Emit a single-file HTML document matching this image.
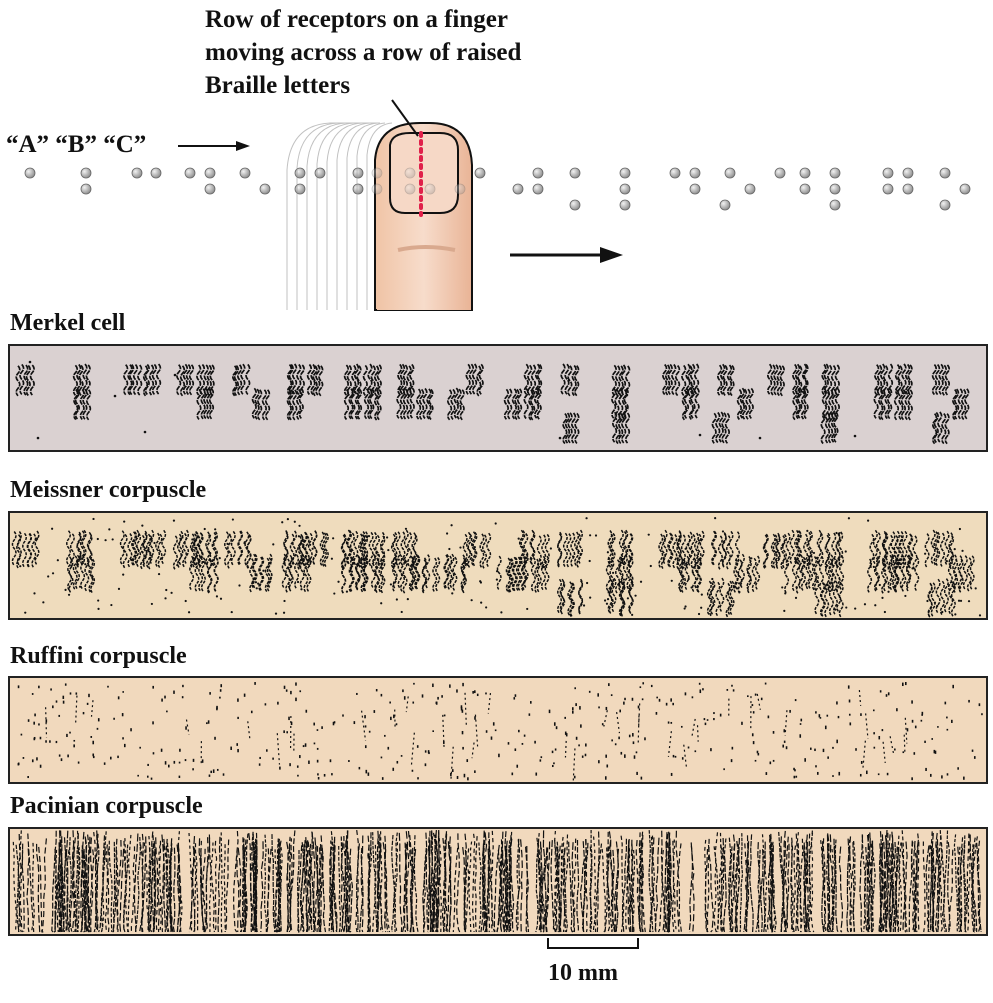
<!DOCTYPE html>
<html><head><meta charset="utf-8">
<style>
html,body{margin:0;padding:0;background:#fff;}
svg{display:block;}
text{font-family:"Liberation Serif",serif;font-weight:bold;fill:#111;}
</style></head>
<body>
<svg id="s" width="993" height="1003" viewBox="0 0 993 1003" xmlns="http://www.w3.org/2000/svg">
<defs>
<linearGradient id="fg" x1="0" x2="1" y1="0" y2="0">
<stop offset="0" stop-color="#f0c4a6"/><stop offset="0.5" stop-color="#f7dccb"/><stop offset="1" stop-color="#e9b496"/>
</linearGradient>
<radialGradient id="dg" cx="0.35" cy="0.35" r="0.7">
<stop offset="0" stop-color="#f2f2f2"/><stop offset="1" stop-color="#8a8a8a"/>
</radialGradient>
</defs>
<text x="205" y="27" font-size="25">Row of receptors on a finger</text>
<text x="205" y="60" font-size="25">moving across a row of raised</text>
<text x="205" y="93" font-size="25">Braille letters</text>
<text x="6" y="152" font-size="25">“A” “B”  “C”</text>
<line x1="178" y1="146" x2="240" y2="146" stroke="#111" stroke-width="2"/>
<polygon points="250,146 236,141 236,151" fill="#111"/>
<g id="braille"></g>
<g id="finger">
<g fill="none" stroke="#999" stroke-width="1" opacity="0.6">
<path d="M287 310 L287 170 Q290 125 330 123 L380 123"/>
<path d="M297 310 L297 168 Q300 125 338 123"/>
<path d="M307 310 L307 166 Q310 125 346 123"/>
<path d="M317 310 L317 164 Q320 125 354 123"/>
<path d="M327 310 L327 162 Q330 125 362 123"/>
<path d="M337 310 L337 160 Q340 125 370 123"/>
<path d="M347 310 L347 158 Q350 125 378 123"/>
<path d="M357 310 L357 156 Q360 125 385 123"/>
<path d="M367 310 L367 155 Q370 125 392 123"/>
</g>
<path d="M375 310 L375 160 Q378 123 420 123 L430 123 Q470 123 472 165 L472 310 Z" fill="url(#fg)" stroke="#111" stroke-width="2"/>
<rect x="377" y="280" width="94" height="30" fill="url(#fg)"/>
<path d="M390 145 Q392 133 410 133 L440 133 Q458 133 458 150 L458 195 Q458 213 440 213 L405 213 Q390 213 390 198 Z" fill="#f6d8c6" stroke="#111" stroke-width="2"/>
<path d="M398 250 Q425 244 455 250" stroke="#d9a98e" stroke-width="4" fill="none"/>
<line x1="421" y1="133" x2="421" y2="215" stroke="#e0204a" stroke-width="4" stroke-dasharray="3 5" stroke-linecap="round"/>
<line x1="392" y1="100" x2="418" y2="136" stroke="#111" stroke-width="2"/>
</g>
<g id="ghost"></g>
<line x1="510" y1="255" x2="605" y2="255" stroke="#111" stroke-width="3"/>
<polygon points="623,255 600,247 600,263" fill="#111"/>

<text x="10" y="330" font-size="24">Merkel cell</text>
<rect x="9" y="345" width="978" height="106" fill="#dad1d1" stroke="#222" stroke-width="2"/>
<g id="mk"></g>
<text x="10" y="497" font-size="24">Meissner corpuscle</text>
<rect x="9" y="512" width="978" height="107" fill="#efdcbd" stroke="#222" stroke-width="2"/>
<g id="ms"></g>
<text x="10" y="663" font-size="24">Ruffini corpuscle</text>
<rect x="9" y="677" width="978" height="106" fill="#f1d9bd" stroke="#222" stroke-width="2"/>
<g id="rf"></g>
<text x="10" y="813" font-size="24">Pacinian corpuscle</text>
<rect x="9" y="828" width="978" height="107" fill="#f1d9bd" stroke="#222" stroke-width="2"/>
<g id="pc"></g>
<path d="M548 938 L548 948 L638 948 L638 938" fill="none" stroke="#111" stroke-width="2"/>
<text x="548" y="980" font-size="24">10 mm</text>
</svg>
<script>
var seed=7;function r(){seed=(seed*16807)%2147483647;return (seed-1)/2147483646;}
var NS="http://www.w3.org/2000/svg";
function el(g,t,a){var e=document.createElementNS(NS,t);for(var k in a)e.setAttribute(k,a[k]);document.getElementById(g).appendChild(e);return e;}
var dots=[[30,0],[86,0],[86,1],[137,0],[156,0],[190,0],[210,0],[210,1],[245,0],[265,1],[300,0],[320,0],[300,1],[358,0],[377,0],[358,1],[377,1],[410,0],[410,1],[430,1],[460,1],[480,0],[518,1],[538,1],[538,0],[575,0],[575,2],[625,0],[625,1],[625,2],[675,0],[695,0],[695,1],[730,0],[750,1],[725,2],[780,0],[805,0],[805,1],[835,0],[835,1],[835,2],[888,0],[908,0],[888,1],[908,1],[945,0],[945,2],[965,1]];
dots.forEach(function(d){var inF=d[0]>372&&d[0]<475;el(inF?"ghost":"braille","circle",{cx:d[0],cy:173+d[1]*16,r:5,fill:"url(#dg)",stroke:"#666","stroke-width":0.8,opacity:inF?0.35:1});});
function cluster(g,cx,cy,h,n,spread,sw,da){for(var i=0;i<n;i++){var x=cx-n*1.6+i*3.2+(r()-.5)*spread;var y0=cy-h/2+(r()-.5)*spread;var d="M"+x.toFixed(1)+" "+y0.toFixed(1);var segs=4;for(var j=1;j<=segs;j++){d+=" Q"+(x+(j%2?3.5:-3.5)).toFixed(1)+" "+(y0+h*(j-.5)/segs).toFixed(1)+" "+x.toFixed(1)+" "+(y0+h*j/segs).toFixed(1);}el(g,"path",{d:d,fill:"none",stroke:"#111","stroke-width":sw,"stroke-dasharray":da});}}
dots.forEach(function(d){cluster("mk",d[0]-3,380+d[1]*24,30,5,2,1.7,"5 1");});
[[30,362],[175,375],[115,396],[145,432],[38,438],[560,438],[620,436],[700,435],[760,438],[855,436]].forEach(function(p){el("mk","circle",{cx:p[0],cy:p[1],r:1.3,fill:"#111"});});
dots.forEach(function(d){cluster("ms",d[0]-3,550+d[1]*24,34,8,6,1.5,"3 1.2");});
for(var i=0;i<220;i++){el("ms","circle",{cx:20+r()*960,cy:518+r()*98,r:1.1,fill:"#111"});}
for(var i=0;i<420;i++){var x=14+r()*968,y=682+r()*96;el("rf","rect",{x:x,y:y,width:1.6,height:1.6+r()*2,fill:"#111"});}
for(var i=0;i<40;i++){var x=20+r()*950,y=690+r()*60;el("rf","line",{x1:x,y1:y,x2:x+(r()-.5)*8,y2:y+15+r()*20,stroke:"#111","stroke-width":1.2,"stroke-dasharray":"2 3"});}
for(var i=0;i<520;i++){var x=12+r()*972,y=830+r()*20;var d="M"+x.toFixed(1)+" "+y.toFixed(1);var yy=y;while(yy<932){yy+=8+r()*10;x+=(r()-.5)*3;d+=" L"+x.toFixed(1)+" "+Math.min(yy,932).toFixed(1);}el("pc","path",{d:d,fill:"none",stroke:"#111","stroke-width":1.2,"stroke-dasharray":(3+r()*5).toFixed(1)+" "+(1+r()*2.5).toFixed(1)});}
</script>
</body></html>
